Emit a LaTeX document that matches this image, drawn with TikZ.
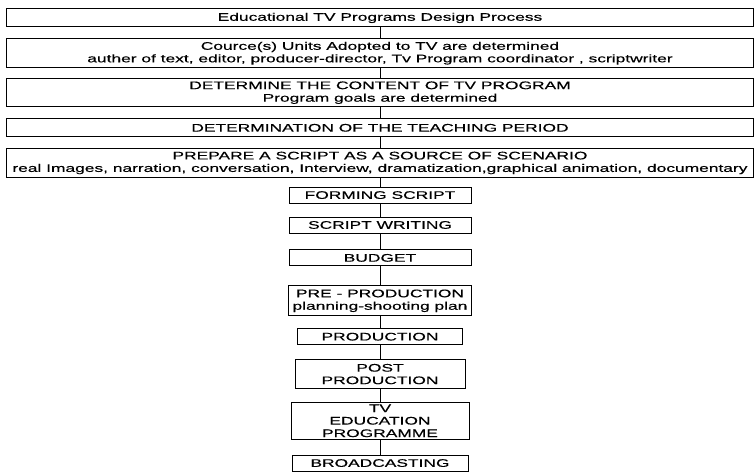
\documentclass[tikz,border=0pt]{standalone}
\usepackage{fontspec}
\setmainfont[FakeStretch=1.58,FakeBold=0.4]{Liberation Sans}
\begin{document}
\begin{tikzpicture}[x=1pt,y=-1pt,line width=0.9pt,
        every node/.style={draw,align=center,inner xsep=4pt,inner ysep=3pt,
            font=\fontsize{11}{12.5}\selectfont},
        widebox/.style={minimum width=747pt,minimum height=18pt},
        stepbox/.style={minimum height=16pt,minimum width=182pt}]
        \useasboundingbox (0,0) rectangle (755,475);
        \matrix (chart) [draw=none,inner sep=0pt,row sep=0pt,at={(380,8)},anchor=north]{
            \node[widebox] (design) {Educational TV Programs Design Process}; \\[11pt]
            \node[widebox] (units) {Cource(s) Units Adopted to TV are determined\\
                auther of text, editor, producer-director, Tv Program coordinator , scriptwriter}; \\[10pt]
            \node[widebox] (content) {DETERMINE THE CONTENT OF TV PROGRAM\\Program goals are determined}; \\[11pt]
            \node[widebox] (period) {DETERMINATION OF THE TEACHING PERIOD}; \\[11pt]
            \node[widebox] (source) {PREPARE A SCRIPT AS A SOURCE OF SCENARIO\\
                real Images, narration, conversation, Interview, dramatization,graphical animation, documentary}; \\[9pt]
            \node[stepbox] (forming) {FORMING SCRIPT}; \\[13pt]
            \node[stepbox] (writing) {SCRIPT WRITING}; \\[16pt]
            \node[stepbox] (budget) {BUDGET}; \\[19pt]
            \node[stepbox,minimum height=30pt] (preprod) {PRE - PRODUCTION\\planning-shooting plan}; \\[12pt]
            \node[stepbox,minimum width=165pt] (prod) {PRODUCTION}; \\[14pt]
            \node[stepbox,minimum width=170pt,minimum height=29pt] (postprod) {POST\\PRODUCTION}; \\[13pt]
            \node[stepbox,minimum width=178pt,inner ysep=2pt] (programme) {TV\\EDUCATION\\PROGRAMME}; \\[15pt]
            \node[stepbox,minimum width=176pt] (broadcast) {BROADCASTING}; \\
        };
        \foreach \a/\b in {design/units,units/content,content/period,period/source,source/forming,
            forming/writing,writing/budget,budget/preprod,preprod/prod,prod/postprod,
            postprod/programme,programme/broadcast}
            \draw (\a.south) -- (\b.north);
\end{tikzpicture}
\end{document}
